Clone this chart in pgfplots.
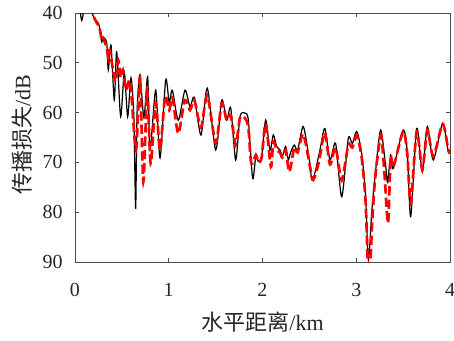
\documentclass[border=0pt]{standalone}
\usepackage{fontspec}
\setmainfont{Liberation Serif}
\newfontfamily\cjk{Noto Sans CJK SC}
\usepackage{pgfplots}
\pgfplotsset{compat=1.18}
\pgfplotstableread{
x y
0.04 37
0.07 41.5
0.10 39.5
0.178 40
0.213 41.4
0.249 42
0.267 43.5
0.285 45.8
0.299 44.8
0.338 46
0.355 51.4
0.384 46.4
0.419 57.5
0.445 47.8
0.487 60.8
0.526 52
0.562 60.8
0.597 53
0.628 61
0.647 79.3
0.662 60
0.693 52.4
0.735 61
0.775 52.8
0.80 67.5
0.861 55.5
0.907 69.1
0.967 53.5
1.005 58
1.038 55.5
1.102 61.5
1.173 55.5
1.227 58.8
1.273 56.9
1.344 64.5
1.411 55.1
1.501 67.5
1.565 57.5
1.618 61.5
1.661 59.1
1.714 69.5
1.76 60.8
1.813 60.1
1.849 61.5
1.895 73.2
1.93 68.5
1.955 69.8
1.991 68.8
2.034 61.5
2.08 67.5
2.115 64.5
2.151 66.8
2.187 67.5
2.211 68.8
2.247 66.8
2.275 69.5
2.30 68
2.339 66.5
2.375 67.5
2.435 62.8
2.50 69.5
2.525 73.5
2.56 72
2.613 67.5
2.665 63.2
2.72 69.5
2.78 66.2
2.845 76.9
2.915 65.2
2.958 66.2
3.005 63.8
3.058 68.2
3.10 77
3.13 89.6
3.165 80
3.20 72.9
3.26 63.5
3.315 71
3.335 74
3.367 68.5
3.395 71.2
3.50 63.5
3.545 68
3.581 80.9
3.645 63.2
3.705 71.9
3.758 62.8
3.822 69.5
3.922 62.2
3.982 67.9
4.0 67.5
}\blackdata
\pgfplotstableread{
x y
0.10 39
0.178 40
0.213 41.3
0.249 42.5
0.267 43.4
0.285 45.5
0.299 45
0.338 47
0.355 49
0.37 47.4
0.43 53.8
0.46 49.4
0.487 53
0.51 51.4
0.545 55.5
0.59 53.8
0.65 67.5
0.693 53
0.729 73.9
0.77 55.5
0.807 70.2
0.86 58
0.907 67.5
0.96 56.8
1.005 59.5
1.04 57
1.102 64.2
1.17 57.5
1.227 59.5
1.273 57.5
1.344 63
1.411 56.5
1.501 66.1
1.565 58.1
1.618 61.5
1.661 60.5
1.714 66.5
1.76 61
1.813 61.1
1.849 63
1.88 70.2
1.93 68.5
1.955 70
1.991 69
2.034 62.2
2.09 70.9
2.115 65.8
2.151 67.5
2.187 68
2.211 69
2.247 67.5
2.286 71.9
2.339 67
2.375 68
2.435 64.3
2.507 70.9
2.542 73.5
2.60 70
2.665 64
2.72 70.4
2.78 67
2.845 73.6
2.915 66.5
2.958 67
3.005 64.6
3.058 69
3.10 78
3.135 95
3.17 82
3.20 73.5
3.262 64.5
3.30 72
3.339 82.2
3.367 69
3.395 71
3.50 63.8
3.545 68.5
3.581 78.2
3.645 63.8
3.705 71.5
3.758 63.5
3.822 68.8
3.922 62.3
3.982 67.5
4.0 68
}\reddata
\begin{document}
\begin{tikzpicture}
\begin{axis}[
  scale only axis,
  width=281.25pt, height=186.75pt,
  xmin=0, xmax=4, ymin=40, ymax=90,
  y dir=reverse,
  xtick={0,1,2,3,4}, ytick={40,50,60,70,80,90},
  tick align=inside,
  major tick length=3pt,
  axis line style={black!70, line width=0.6pt},
  tick style={black!70, line width=0.6pt},
  font=\fontsize{15}{18}\selectfont,
  /pgf/number format/assume math mode=true,
  xticklabel style={anchor=center, yshift=-21pt, text=black!85},
  yticklabel style={anchor=east, inner sep=0pt, xshift=-9pt, text=black!85},
  xlabel={{\cjk 水平距离}/km},
  ylabel={{\cjk 传播损失}/dB},
  xlabel style={at={(axis description cs:0.5,-0.241)}, anchor=center, text=black!85, font=\fontsize{16.5}{19}\selectfont},
  ylabel style={at={(axis description cs:-0.1413,0.51)}, anchor=center, text=black!85, font=\fontsize{16.5}{19}\selectfont},
]
\addplot[black, line width=0.9pt, smooth, tension=0.45] table[x=x,y=y] {\blackdata};
\addplot[red, line width=2pt, dash pattern=on 7pt off 3pt, smooth, tension=0.45] table[x=x,y=y] {\reddata};
\end{axis}
\pgfresetboundingbox
\path[use as bounding box] (-56.25pt,-58.5pt) rectangle (284.25pt,196.5pt);
\end{tikzpicture}
\end{document}
